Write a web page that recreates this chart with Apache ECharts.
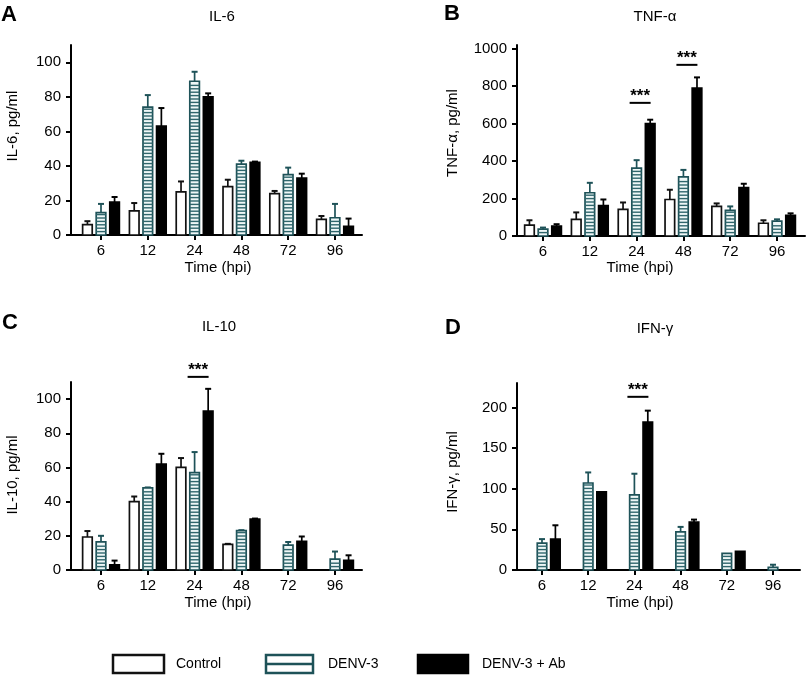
<!DOCTYPE html>
<html>
<head>
<meta charset="utf-8">
<script src="https://cdn.jsdelivr.net/npm/echarts@6/dist/echarts.min.js"></script>
<style>
  html, body { margin: 0; padding: 0; background: #fff; }
  #chart { width: 812px; height: 684px; }
</style>
</head>
<body>
<div id="chart"></div>
<script>
// time points (hours post infection)
const hours = ['6', '12', '24', '48', '72', '96']
const groups = ['Control', 'DENV-3', 'DENV-3 + Ab']

// IL-6, pg/ml
const il6Control = [6, 14, 25, 28, 24, 9]
const il6ControlErr = [2, 4.5, 6, 4, 1.5, 2]
const il6Denv = [13, 74, 89, 41, 35, 10]
const il6DenvErr = [5, 7, 5.5, 2, 4, 8]
const il6Ab = [19, 63, 80, 42, 33, 5]
const il6AbErr = [3, 10.5, 2, 0.5, 2.5, 4.5]

// TNF-alpha, pg/ml
const tnfControl = [58, 89, 142, 195, 158, 68]
const tnfControlErr = [26, 37, 37, 52, 16, 16]
const tnfDenv = [37, 231, 363, 316, 137, 79]
const tnfDenvErr = [8, 53, 42, 37, 21, 10]
const tnfAb = [53, 163, 600, 790, 258, 110]
const tnfAbErr = [10, 32, 21, 57, 21, 11]

// IL-10, pg/ml
const il10Control = [19.3, 40, 60, 15, 0, 0]
const il10ControlErr = [3.5, 3, 5.5, 0.3, 0, 0]
const il10Denv = [16.4, 48, 57, 23, 14.6, 6.4]
const il10DenvErr = [3.6, 0.3, 12, 0.3, 1.8, 4.4]
const il10Ab = [3, 62, 93, 29.8, 16.7, 5.7]
const il10AbErr = [2.5, 6, 13, 0.3, 2.9, 2.9]

// IFN-gamma, pg/ml
const ifnControl = [0, 0, 0, 0, 0, 0]
const ifnControlErr = [0, 0, 0, 0, 0, 0]
const ifnDenv = [33, 107, 92.4, 47, 20.4, 3.2]
const ifnDenvErr = [5, 13, 26, 6, 0, 3.3]
const ifnAb = [38, 96, 182, 59, 23, 0]
const ifnAbErr = [17, 0, 14, 3, 0, 0]

// significance bars (***) : [time index, height in axis units]
const tnfSig = [[2, 711], [3, 914]]
const il10Sig = [[2, 113]]
const ifnSig = [[2, 213]]

const panels = [
  { letter: 'A', title: 'IL-6', yName: 'IL-6, pg/ml', yMax: 110, ticks: [0, 20, 40, 60, 80, 100],
    data: [[il6Control, il6ControlErr], [il6Denv, il6DenvErr], [il6Ab, il6AbErr]], sig: [] },
  { letter: 'B', title: 'TNF-α', yName: 'TNF-α, pg/ml', yMax: 1020, ticks: [0, 200, 400, 600, 800, 1000],
    data: [[tnfControl, tnfControlErr], [tnfDenv, tnfDenvErr], [tnfAb, tnfAbErr]], sig: tnfSig },
  { letter: 'C', title: 'IL-10', yName: 'IL-10, pg/ml', yMax: 110, ticks: [0, 20, 40, 60, 80, 100],
    data: [[il10Control, il10ControlErr], [il10Denv, il10DenvErr], [il10Ab, il10AbErr]], sig: il10Sig },
  { letter: 'D', title: 'IFN-γ', yName: 'IFN-γ, pg/ml', yMax: 230, ticks: [0, 50, 100, 150, 200],
    data: [[ifnControl, ifnControlErr], [ifnDenv, ifnDenvErr], [ifnAb, ifnAbErr]], sig: ifnSig }
]

// layout of each panel (pixels)
const layout = [
  { grid: { left: 71, top: 45, width: 291, height: 190 }, xMin: -0.641, xMax: 5.577,
    letter: [9, 15], title: [222, 17], yName: [13, 126], xName: [218, 268] },
  { grid: { left: 517, top: 45, width: 288, height: 191 }, xMin: -0.556, xMax: 5.598,
    letter: [452, 14], title: [655, 17], yName: [453, 133], xName: [640, 268] },
  { grid: { left: 71, top: 382, width: 291, height: 188 }, xMin: -0.641, xMax: 5.577,
    letter: [10, 323], title: [219, 327], yName: [13, 475], xName: [218, 603] },
  { grid: { left: 517, top: 383, width: 283, height: 187 }, xMin: -0.541, xMax: 5.584,
    letter: [453, 328], title: [655, 329], yName: [453, 472], xName: [640, 603] }
]

const TEAL = '#1e5258'
const STRIPE = '#2f666c'
const FONT = '"Liberation Sans", Arial, Helvetica, sans-serif'
const BAR_W = 0.205
const SHIFT = 0.29
const tickIdx = [0, 1, 2, 3, 4, 5]

const groupStyle = [
  { fill: '#fff', stroke: '#111', stripes: false },
  { fill: '#eef7f7', stroke: TEAL, stripes: true },
  { fill: '#000', stroke: '#000', stripes: false }
]

function barRenderer(g) {
  const st = groupStyle[g]
  const shift = (g - 1) * SHIFT
  return function (params, api) {
    const cat = api.value(0)
    const val = api.value(1)
    const err = api.value(2)
    if (!(val > 0)) return null
    const band = api.size([1, 0])[0]
    const base = api.coord([cat, 0])
    const cx = base[0] + shift * band
    const top = api.coord([cat, val])[1]
    const w = BAR_W * band
    const children = []
    if (err > 0) {
      const errTop = api.coord([cat, val + err])[1]
      children.push({
        type: 'line',
        shape: { x1: cx, y1: top, x2: cx, y2: errTop },
        style: { stroke: st.stroke, lineWidth: 1.7 }
      })
      children.push({
        type: 'line',
        shape: { x1: cx - 3, y1: errTop, x2: cx + 3, y2: errTop },
        style: { stroke: st.stroke, lineWidth: 2 }
      })
    }
    children.push({
      type: 'rect',
      shape: { x: cx - w / 2, y: top, width: w, height: base[1] - top },
      style: { fill: st.fill, stroke: st.stroke, lineWidth: 1.7 }
    })
    if (st.stripes) {
      for (let y = base[1] - 3.4; y > top + 1.5; y -= 3.4) {
        children.push({
          type: 'line',
          shape: { x1: cx - w / 2, y1: y, x2: cx + w / 2, y2: y },
          style: { stroke: STRIPE, lineWidth: 1.4 }
        })
      }
    }
    return { type: 'group', children }
  }
}

function sigRenderer(params, api) {
  const p = api.coord([api.value(0), api.value(1)])
  return {
    type: 'group',
    children: [
      { type: 'line', shape: { x1: p[0] - 7, y1: p[1], x2: p[0] + 14, y2: p[1] },
        style: { stroke: '#000', lineWidth: 2 } },
      { type: 'text', x: p[0] + 3.5, y: p[1] - 7,
        style: { text: '***', fill: '#000', font: 'bold 17px ' + FONT, align: 'center', verticalAlign: 'middle' } }
    ]
  }
}

const series = []
panels.forEach((p, i) => {
  p.data.forEach(([vals, errs], g) => {
    series.push({
      name: groups[g],
      type: 'custom',
      xAxisIndex: i,
      yAxisIndex: i,
      renderItem: barRenderer(g),
      data: vals.map((v, k) => [k, v, errs[k]]),
      silent: true
    })
  })
  if (p.sig.length) {
    series.push({
      type: 'custom',
      xAxisIndex: i,
      yAxisIndex: i,
      renderItem: sigRenderer,
      data: p.sig,
      silent: true
    })
  }
})

const axisLineStyle = { color: '#000', width: 2 }
const textBase = { fill: '#000', font: '15px ' + FONT, align: 'center', verticalAlign: 'middle' }

const graphic = []
layout.forEach((l, i) => {
  const p = panels[i]
  graphic.push({ type: 'text', x: l.letter[0], y: l.letter[1],
    style: { text: p.letter, fill: '#000', font: 'bold 22px ' + FONT, align: 'center', verticalAlign: 'middle' } })
  graphic.push({ type: 'text', x: l.title[0], y: l.title[1], style: Object.assign({ text: p.title }, textBase) })
  graphic.push({ type: 'text', x: l.yName[0], y: l.yName[1], rotation: Math.PI / 2,
    style: Object.assign({ text: p.yName }, textBase) })
  graphic.push({ type: 'text', x: l.xName[0], y: l.xName[1], style: Object.assign({ text: 'Time (hpi)' }, textBase) })
})

// legend
const legendItems = [
  { x: 113, w: 51, text: 176 },
  { x: 266, w: 47, text: 328 },
  { x: 418, w: 50, text: 482 }
]
legendItems.forEach((it, g) => {
  const st = groupStyle[g]
  graphic.push({ type: 'rect', shape: { x: it.x, y: 655, width: it.w, height: 18 },
    style: { fill: g === 1 ? '#fff' : st.fill, stroke: st.stroke, lineWidth: 2.5 } })
  if (g === 1) {
    graphic.push({ type: 'line', shape: { x1: it.x, y1: 664, x2: it.x + it.w, y2: 664 },
      style: { stroke: TEAL, lineWidth: 2.5 } })
  }
  graphic.push({ type: 'text', x: it.text, y: 664,
    style: { text: groups[g], fill: '#000', font: '14px ' + FONT, align: 'left', verticalAlign: 'middle' } })
})

const chart = echarts.init(document.getElementById('chart'), null, { renderer: 'canvas' })
chart.setOption({
  animation: false,
  backgroundColor: '#fff',
  grid: layout.map(l => Object.assign({ containLabel: false }, l.grid)),
  xAxis: layout.map((l, i) => ({
    type: 'value',
    gridIndex: i,
    min: l.xMin,
    max: l.xMax,
    splitLine: { show: false },
    axisLine: { onZero: false, lineStyle: axisLineStyle },
    axisTick: { customValues: tickIdx, length: 5, lineStyle: axisLineStyle },
    axisLabel: { customValues: tickIdx, formatter: v => hours[v], margin: 8,
      fontSize: 15, fontFamily: FONT, color: '#000' }
  })),
  yAxis: panels.map((p, i) => ({
    type: 'value',
    gridIndex: i,
    min: 0,
    max: p.yMax,
    splitLine: { show: false },
    axisLine: { show: true, onZero: false, lineStyle: axisLineStyle },
    axisTick: { show: true, customValues: p.ticks, length: 5, lineStyle: axisLineStyle },
    axisLabel: { customValues: p.ticks, formatter: v => String(v), margin: 10,
      fontSize: 15, fontFamily: FONT, color: '#000' }
  })),
  series,
  graphic
})
</script>
</body>
</html>
